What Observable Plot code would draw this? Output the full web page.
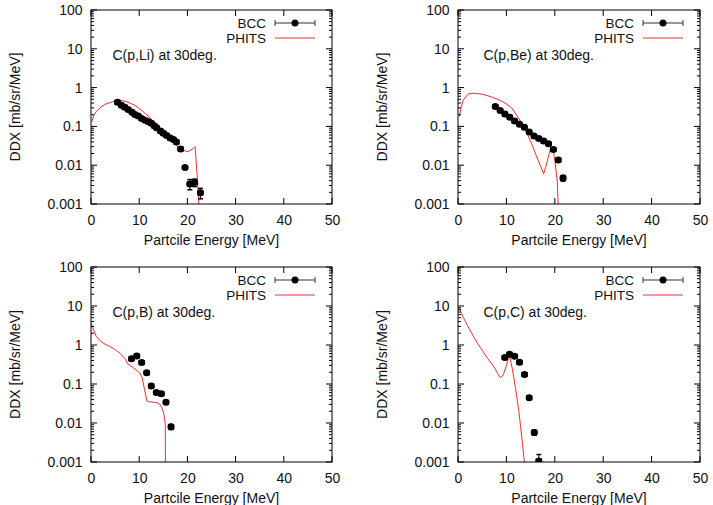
<!DOCTYPE html>
<html><head><meta charset="utf-8">
<script src="https://cdn.jsdelivr.net/npm/d3@7"></script>
<script src="https://cdn.jsdelivr.net/npm/@observablehq/plot@0.6"></script>
<style>
body{margin:0;background:#fff;}
#wrap{position:relative;width:713px;height:505px;overflow:hidden;background:#fff;}
#wrap svg{position:absolute;}
</style></head><body><div id="wrap"></div>
<script>
// ---- tick labels & texts ----
const xTicks = [0, 10, 20, 30, 40, 50];
const yTicks = [0.001, 0.01, 0.1, 1, 10, 100];
const seriesNames = ["BCC", "PHITS"];
const panelTitles = ["C(p,Li) at 30deg.", "C(p,Be) at 30deg.", "C(p,B) at 30deg.", "C(p,C) at 30deg."];
const xLabel = "Partcile Energy [MeV]";
const yLabel = "DDX [mb/sr/MeV]";
const binHalfWidth = 0.5;

// ---- BCC (measured) ----
const liE = [5.4, 6.2, 6.9, 7.6, 8.4, 9.0, 9.7, 10.4, 11.1, 11.8, 12.4, 13.0, 13.5, 14.3, 14.9, 15.6, 16.3, 17.0, 17.6, 18.5, 19.4, 20.4, 21.4, 22.6];
const liV = [0.43, 0.36, 0.32, 0.28, 0.24, 0.21, 0.19, 0.165, 0.149, 0.135, 0.125, 0.107, 0.095, 0.078, 0.069, 0.060, 0.052, 0.047, 0.041, 0.027, 0.009, 0.0034, 0.0037, 0.002];
const liErr = [0.02, 0.018, 0.016, 0.014, 0.012, 0.011, 0.01, 0.008, 0.007, 0.007, 0.006, 0.005, 0.005, 0.004, 0.0035, 0.003, 0.0026, 0.0024, 0.002, 0.0018, 0.0009, 0.001, 0.0008, 0.0006];

const beE = [7.6, 8.6, 9.6, 10.6, 11.6, 12.6, 13.6, 14.6, 15.6, 16.6, 17.6, 18.6, 19.6, 20.6, 21.6];
const beV = [0.335, 0.265, 0.215, 0.178, 0.142, 0.117, 0.098, 0.074, 0.058, 0.05, 0.043, 0.037, 0.026, 0.014, 0.0048];
const beErr = [0.015, 0.012, 0.01, 0.008, 0.007, 0.006, 0.005, 0.004, 0.003, 0.0025, 0.0022, 0.002, 0.0015, 0.0012, 0.0008];

const bE = [8.3, 9.4, 10.4, 11.45, 12.4, 13.45, 14.5, 15.45, 16.5];
const bV = [0.46, 0.54, 0.365, 0.2, 0.092, 0.062, 0.058, 0.035, 0.0082];
const bErr = [0.03, 0.03, 0.02, 0.012, 0.006, 0.004, 0.004, 0.003, 0.0012];

const cE = [9.57, 10.55, 11.6, 12.6, 13.65, 14.6, 15.65, 16.6];
const cV = [0.49, 0.6, 0.53, 0.37, 0.18, 0.046, 0.0059, 0.0011];
const cErr = [0.03, 0.03, 0.03, 0.02, 0.01, 0.003, 0.0009, 0.0005];

// ---- PHITS (calculation) ----
const liPE = [0.1, 0.5, 1, 2, 3, 4, 5, 6, 7, 8, 9, 10, 11, 12, 13, 14, 15, 16, 17, 18, 19, 20, 21, 21.5, 22, 22.4];
const liPV = [0.14, 0.2, 0.25, 0.33, 0.39, 0.43, 0.47, 0.48, 0.46, 0.41, 0.36, 0.29, 0.23, 0.18, 0.13, 0.095, 0.072, 0.052, 0.04, 0.03, 0.025, 0.023, 0.027, 0.031, 0.004, 0.0005];

const bePE = [0.2, 0.5, 1, 2, 3, 4, 5, 6, 7, 8, 9, 10, 11, 12, 13, 14, 15, 16, 17, 17.6, 18, 19, 19.5, 20, 20.4, 20.7];
const bePV = [0.19, 0.3, 0.5, 0.7, 0.74, 0.72, 0.69, 0.64, 0.58, 0.52, 0.46, 0.38, 0.31, 0.2, 0.13, 0.075, 0.04, 0.019, 0.0095, 0.0062, 0.009, 0.027, 0.03, 0.011, 0.004, 0.0005];

const bPE = [0, 0.5, 1, 2, 3, 4, 5, 6, 7, 7.5, 8, 9, 10, 10.5, 11, 11.5, 12, 13, 14, 14.5, 15, 15.3, 15.35];
const bPV = [3.6, 2.4, 1.7, 1.25, 1.05, 0.92, 0.77, 0.62, 0.45, 0.34, 0.31, 0.25, 0.2, 0.15, 0.075, 0.038, 0.036, 0.035, 0.033, 0.027, 0.018, 0.01, 0.0005];

const cPE = [0, 0.3, 1, 2, 3, 4, 5, 6, 7, 7.6, 8.1, 8.6, 9.2, 9.8, 10.5, 11.1, 11.8, 12.5, 13.2, 13.7];
const cPV = [9.5, 8.5, 5.2, 3.0, 1.8, 1.1, 0.72, 0.47, 0.32, 0.25, 0.19, 0.15, 0.17, 0.28, 0.58, 0.26, 0.079, 0.019, 0.0033, 0.0008];

// ---- build tables ----
function bccRows(E, V, err) {
  return E.map((e, i) => ({E: e, v: V[i], lo: V[i] - err[i], hi: V[i] + err[i], xlo: e - binHalfWidth, xhi: e + binHalfWidth}));
}
function phitsRows(E, V) { return E.map((e, i) => ({E: e, v: V[i]})); }

const panels = [
  {bcc: bccRows(liE, liV, liErr), phits: phitsRows(liPE, liPV), title: panelTitles[0], left: 0, top: 0, w: 356, h: 250, ml: 91, mr: 24, mt: 10, mb: 46, tdx: 21},
  {bcc: bccRows(beE, beV, beErr), phits: phitsRows(bePE, bePV), title: panelTitles[1], left: 357, top: 0, w: 356, h: 250, ml: 101, mr: 13, mt: 10, mb: 46, tdx: 25},
  {bcc: bccRows(bE, bV, bErr), phits: phitsRows(bPE, bPV), title: panelTitles[2], left: 0, top: 250, w: 356, h: 255, ml: 91, mr: 24, mt: 17, mb: 43, tdx: 21},
  {bcc: bccRows(cE, cV, cErr), phits: phitsRows(cPE, cPV), title: panelTitles[3], left: 357, top: 250, w: 356, h: 255, ml: 101, mr: 13, mt: 17, mb: 43, tdx: 25}
];

const RED = "#e8302e";
const FONT = "'Liberation Sans', Arial, Helvetica, sans-serif";
const hCap = {draw(ctx, size) { const r = Math.sqrt(size / Math.PI); ctx.moveTo(-r, 0); ctx.lineTo(r, 0); }};
const vCap = {draw(ctx, size) { const r = Math.sqrt(size / Math.PI); ctx.moveTo(0, -r); ctx.lineTo(0, r); }};

// frame, mirrored inward ticks, axis titles and key
function frameMark(index, scales, values, dim) {
  const {width, height, marginLeft, marginRight, marginTop, marginBottom} = dim;
  const x = scales.x, y = scales.y;
  const L = marginLeft, R = width - marginRight, T = marginTop, B = height - marginBottom;
  const g = d3.create("svg:g");
  const lines = g.append("g").attr("fill", "none").attr("stroke", "#000").attr("stroke-width", 1);
  let p = "";
  for (const t of xTicks) { const X = x(t); p += `M${X},${B}v-6M${X},${T}v6`; }
  for (let i = 0; i < yTicks.length; i++) {
    const d = yTicks[i]; const Y = y(d);
    p += `M${L},${Y}h6M${R},${Y}h-6`;
    if (i < yTicks.length - 1) {
      for (let k = 2; k <= 9; k++) { const Ym = y(k * d); p += `M${L},${Ym}h3M${R},${Ym}h-3`; }
    }
  }
  lines.append("path").attr("d", p);
  lines.append("rect").attr("x", L).attr("y", T).attr("width", R - L).attr("height", B - T);
  const txt = g.append("g").attr("fill", "#111").attr("font-size", 14).attr("font-family", FONT);
  txt.append("text").attr("transform", `translate(${L - 76},${(T + B) / 2}) rotate(-90)`)
    .attr("text-anchor", "middle").attr("dy", "0.35em").text(yLabel);
  txt.append("text").attr("x", (L + R) / 2).attr("y", B + 36).attr("text-anchor", "middle").attr("dy", "0.35em").text(xLabel);
  // key
  const y1 = T + 13, y2 = T + 28;
  const key = txt.append("g").attr("font-size", 13.5);
  key.append("text").attr("x", R - 66).attr("y", y1).attr("dy", "0.35em").attr("text-anchor", "end").text(seriesNames[0]);
  key.append("text").attr("x", R - 66).attr("y", y2).attr("dy", "0.35em").attr("text-anchor", "end").text(seriesNames[1]);
  g.append("path").attr("fill", "none").attr("stroke", "#333").attr("stroke-width", 1)
    .attr("d", `M${R - 57},${y1}H${R - 17}M${R - 57},${y1 - 3}v6M${R - 17},${y1 - 3}v6`);
  g.append("circle").attr("cx", R - 37).attr("cy", y1).attr("r", 3.5).attr("fill", "#000");
  g.append("path").attr("fill", "none").attr("stroke", RED).attr("stroke-width", 1)
    .attr("d", `M${R - 57},${y2}H${R - 17}`);
  return g.node();
}

const wrap = document.getElementById("wrap");
for (const pn of panels) {
  const chart = Plot.plot({
    width: pn.w, height: pn.h,
    marginLeft: pn.ml, marginRight: pn.mr, marginTop: pn.mt, marginBottom: pn.mb,
    style: {fontSize: "14px", fontFamily: FONT, background: "transparent", color: "#111", overflow: "visible"},
    x: {domain: [0, 50], ticks: xTicks, tickSize: 0, tickPadding: 11, label: null, tickFormat: d3.format("d")},
    y: {type: "log", domain: [0.001, 100], ticks: yTicks, tickSize: 0, tickPadding: 9, label: null, tickFormat: d => d3.format("~g")(d)},
    marks: [
      Plot.text([pn.title], {frameAnchor: "top-left", dx: pn.tdx, dy: 40, textAnchor: "start", fontSize: 14, fill: "#111"}),
      Plot.line(pn.phits, {x: "E", y: "v", stroke: RED, strokeWidth: 1, clip: true}),
      Plot.ruleX(pn.bcc, {x: "E", y1: "lo", y2: "hi", stroke: "#000", strokeWidth: 1, clip: true}),
      Plot.ruleY(pn.bcc, {y: "v", x1: "xlo", x2: "xhi", stroke: "#000", strokeWidth: 1, clip: true}),
      Plot.dot(pn.bcc, {x: "E", y: "lo", symbol: hCap, r: 2.5, stroke: "#000", fill: "none", clip: true}),
      Plot.dot(pn.bcc, {x: "E", y: "hi", symbol: hCap, r: 2.5, stroke: "#000", fill: "none", clip: true}),
      Plot.dot(pn.bcc, {x: "xlo", y: "v", symbol: vCap, r: 2.5, stroke: "#000", fill: "none", clip: true}),
      Plot.dot(pn.bcc, {x: "xhi", y: "v", symbol: vCap, r: 2.5, stroke: "#000", fill: "none", clip: true}),
      Plot.dot(pn.bcc, {x: "E", y: "v", r: 3.5, fill: "#000", stroke: "none", clip: true}),
      frameMark
    ]
  });
  chart.style.left = pn.left + "px";
  chart.style.top = pn.top + "px";
  wrap.appendChild(chart);
}
</script></body></html>
